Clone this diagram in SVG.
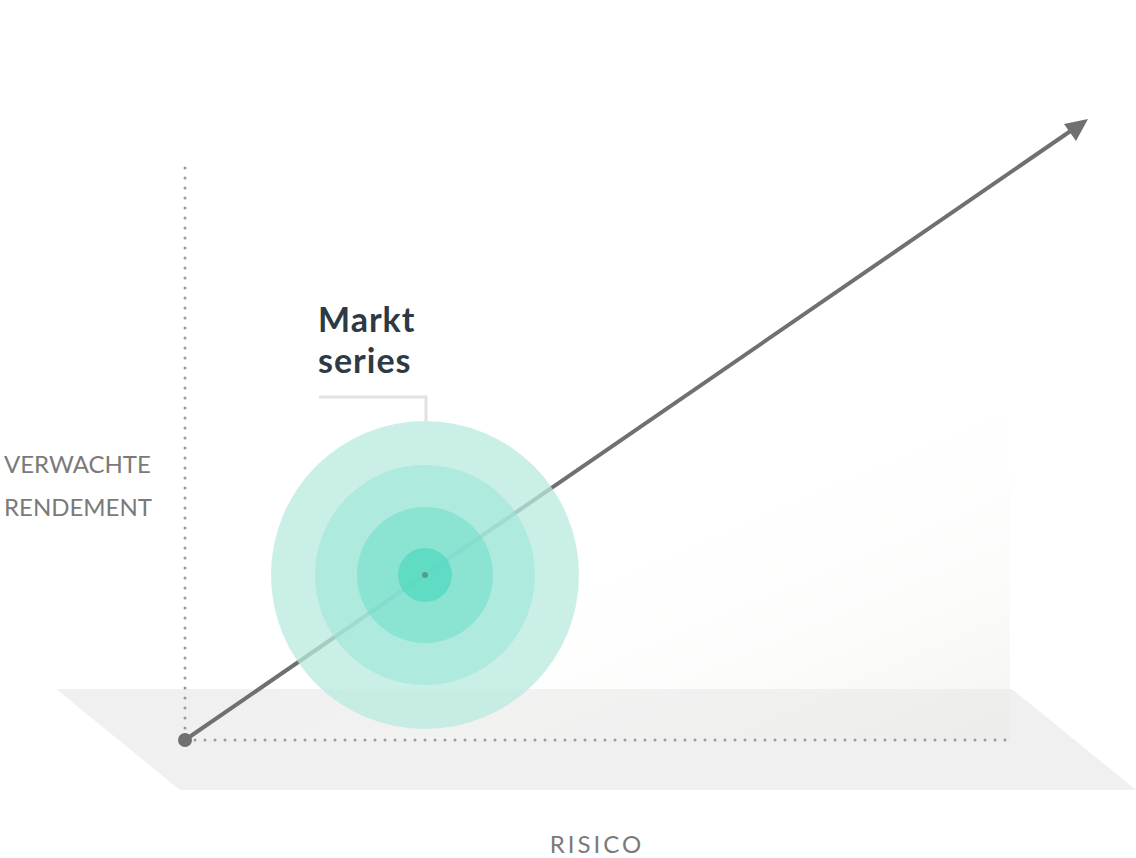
<svg xmlns="http://www.w3.org/2000/svg" width="1136" height="858" viewBox="0 0 1136 858">
<defs>
<linearGradient id="wall" x1="0" y1="0" x2="1" y2="1">
<stop offset="0.45" stop-color="#ffffff" stop-opacity="0"/>
<stop offset="1" stop-color="#e8e8e2" stop-opacity="0.5"/>
</linearGradient>
<marker id="ah" viewBox="0 0 10 10" refX="8" refY="5" markerWidth="7" markerHeight="7" orient="auto" markerUnits="userSpaceOnUse">
</marker>
</defs>
<style>
.dot{stroke:#9a9a9a;stroke-width:3;stroke-linecap:round;stroke-dasharray:0 10;fill:none}
.lab{font-family:"Lato","Liberation Sans",sans-serif;fill:#7a7a7a;font-size:24px}
.title{font-family:"Lato","Liberation Sans",sans-serif;fill:#2d3a45;font-size:34px;font-weight:bold;letter-spacing:1px}
</style>
<rect width="1136" height="858" fill="#ffffff"/>
<g id="floor"><polygon points="56,689 1012,689 1136,790 180,790" fill="#f0f0f0"/></g>
<g id="wall"><rect x="185" y="390" width="825" height="350" fill="url(#wall)"/></g>
<g id="connectors">
<line class="dot" x1="185" y1="168" x2="185" y2="740"/>
<line class="dot" x1="185" y1="740" x2="1010" y2="740"/>
<line x1="185" y1="740" x2="1072" y2="130" stroke="#707070" stroke-width="4"/>
<polygon points="1088,119 1064,124 1076,141" fill="#707070"/>
<circle cx="185" cy="740" r="7" fill="#707070"/>
<polyline points="319,397 426,397 426,421" fill="none" stroke="#e2e2e2" stroke-width="3"/>
</g>
<g id="markt">
<circle cx="425" cy="575" r="154" fill="#b8e9df" opacity="0.75"/>
<circle cx="425" cy="575" r="110" fill="#9be6d8" opacity="0.6"/>
<circle cx="425" cy="575" r="68" fill="#73ddca" opacity="0.6"/>
<circle cx="425" cy="575" r="27" fill="#4ed8bf" opacity="0.7"/>
<circle cx="425" cy="575" r="3" fill="#5a9a8c"/>
<text class="title" x="318" y="332">Markt</text>
<text class="title" x="318" y="373">series</text>
</g>
<g id="ylabel">
<text class="lab" x="4" y="473">VERWACHTE</text>
<text class="lab" x="4" y="516">RENDEMENT</text>
</g>
<g id="xlabel"><text class="lab" x="597" y="853" text-anchor="middle" letter-spacing="3">RISICO</text></g>
</svg>
